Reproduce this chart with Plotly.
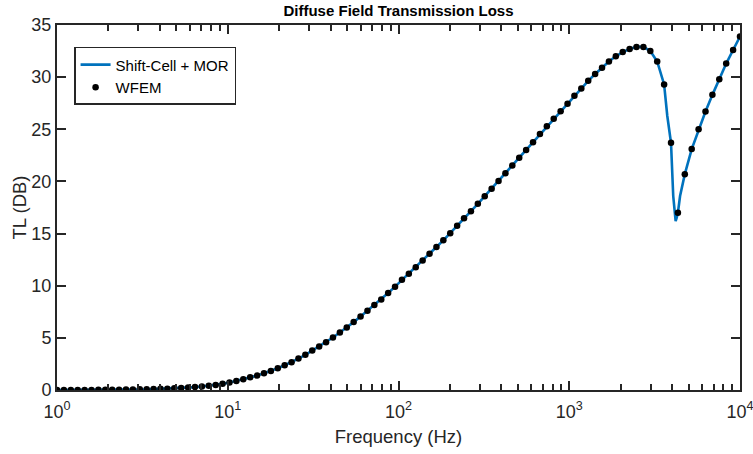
import numpy as np
import plotly.graph_objects as go

# WFEM sample grid (100 log-spaced frequencies, 1 Hz .. 10 kHz)
freq_wfem = np.logspace(0, 4, 100)
tl_wfem = [
    0.00, 0.00, 0.01, 0.01, 0.01, 0.01, 0.02, 0.02, 0.03, 0.03,
    0.04, 0.05, 0.06, 0.07, 0.09, 0.11, 0.13, 0.16, 0.19, 0.23,
    0.28, 0.34, 0.41, 0.49, 0.59, 0.71, 0.87, 1.03, 1.22, 1.38,
    1.60, 1.83, 2.09, 2.37, 2.66, 3.01, 3.37, 3.78, 4.16, 4.58,
    5.03, 5.51, 5.99, 6.51, 7.05, 7.60, 8.14, 8.68, 9.30, 9.91,
    10.56, 11.15, 11.77, 12.41, 13.06, 13.71, 14.35, 15.03, 15.74, 16.46,
    17.14, 17.85, 18.59, 19.30, 20.05, 20.79, 21.53, 22.28, 23.02, 23.76,
    24.54, 25.29, 26.02, 26.74, 27.45, 28.22, 28.90, 29.65, 30.30, 30.90,
    31.50, 32.00, 32.40, 32.70, 32.90, 32.90, 32.50, 31.50, 29.30, 23.70,
    17.00, 20.70, 23.10, 25.00, 26.70, 28.30, 29.80, 31.30, 32.60, 33.90,
]

# Extra Shift-Cell + MOR samples resolving the coincidence dip
freq_dip = [3750, 4064, 4159, 4198, 4256, 4457]
tl_dip = [26.3, 18.6, 16.5, 16.2, 16.5, 18.6]

freq_line = np.concatenate([freq_wfem, freq_dip])
tl_line = np.concatenate([tl_wfem, tl_dip])
order = np.argsort(freq_line)
freq_line = freq_line[order]
tl_line = tl_line[order]

x_tickvals = [1, 10, 100, 1000, 10000]
x_ticktext = ["10<sup>0</sup>", "10<sup>1</sup>", "10<sup>2</sup>", "10<sup>3</sup>", "10<sup>4</sup>"]
x_minor = [m * d for d in [1, 10, 100, 1000] for m in range(2, 10)]
y_tickvals = [0, 5, 10, 15, 20, 25, 30, 35]

axis_color = "rgb(38,38,38)"
font_family = "Liberation Sans, Arial, Helvetica, sans-serif"

fig = go.Figure()
fig.add_trace(go.Scatter(
    x=freq_line, y=tl_line, mode="lines", name="Shift-Cell + MOR",
    line=dict(color="#0072BD", width=2.6),
))
fig.add_trace(go.Scatter(
    x=freq_wfem, y=tl_wfem, mode="markers", name="WFEM",
    marker=dict(color="black", size=6.5),
))

fig.update_layout(
    template="none",
    width=753, height=454,
    margin=dict(l=57, r=13, t=25, b=64, autoexpand=False),
    paper_bgcolor="white", plot_bgcolor="white",
    font=dict(family=font_family, size=18, color=axis_color),
    title=dict(
        text="<b>Diffuse Field Transmission Loss</b>",
        x=0.5, xref="paper", xanchor="center",
        y=1 - 11 / 454, yref="container", yanchor="middle",
        font=dict(family=font_family, size=15, color="black"),
        automargin=False,
    ),
    showlegend=True,
    legend=dict(
        x=0.025, y=0.94, xanchor="left", yanchor="top",
        bgcolor="white", bordercolor=axis_color, borderwidth=1.5,
        font=dict(family=font_family, size=15, color="black"),
        tracegroupgap=0, itemwidth=30,
    ),
)

fig.update_xaxes(
    type="log", range=[0, 4], automargin=False,
    tickmode="array", tickvals=x_tickvals, ticktext=x_ticktext,
    ticklabeloverflow="allow", ticklabelstandoff=4,
    ticks="inside", ticklen=9, tickwidth=1.8, tickcolor=axis_color,
    minor=dict(tickmode="array", tickvals=x_minor, ticks="inside", ticklen=6, tickwidth=1.8, tickcolor=axis_color, showgrid=False),
    showline=True, linecolor=axis_color, linewidth=2, mirror="allticks",
    showgrid=False, zeroline=False,
    title=dict(text="Frequency (Hz)", standoff=9, font=dict(size=18.5)),
    tickfont=dict(size=18),
)
fig.update_yaxes(
    range=[0, 35], tickmode="array", tickvals=y_tickvals, automargin=False,
    ticklabeloverflow="allow",
    ticks="inside", ticklen=9, tickwidth=1.8, tickcolor=axis_color,
    showline=True, linecolor=axis_color, linewidth=2, mirror="allticks",
    showgrid=False, zeroline=False,
    title=dict(text="TL (DB)", standoff=0, font=dict(size=18.5)),
    tickfont=dict(size=18),
)

fig.write_html(
    "out.html",
    config={"displayModeBar": False},
    post_script="document.body.style.margin='0';document.body.style.padding='0';",
)
